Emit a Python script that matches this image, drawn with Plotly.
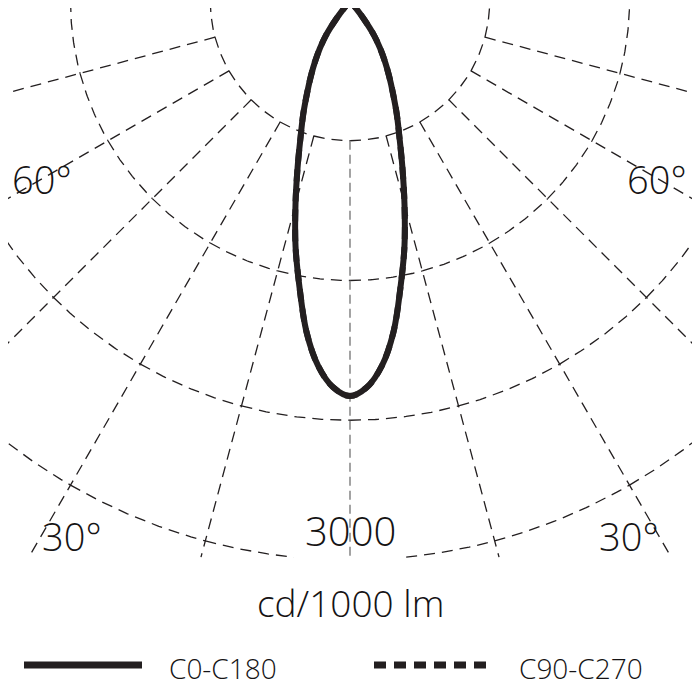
import numpy as np
import plotly.graph_objects as go

# Luminous intensity distribution (cd/1000 lm)
gamma = [0, 2.5, 5, 7.5, 10, 12.5, 15, 17.5, 20, 22.5, 25, 27.5, 30, 32.5, 35, 37.5, 40, 42.5, 45]
c0_c180 = [2120, 2075, 1965, 1790, 1560, 1350, 1130, 935, 775, 655, 545, 455, 375, 300, 225, 125, 35, 0, 0]
c90_c270 = [2120, 2075, 1965, 1790, 1560, 1350, 1130, 935, 775, 655, 545, 455, 375, 300, 225, 125, 35, 0, 0]

# Polar grid
ring_values = [750, 1500, 2250, 3000]
spoke_angles = [15, 30, 45, 60, 75, 90]
ring_label = "3000"
unit_label = "cd/1000 lm"
series_names = ["C0-C180", "C90-C270"]

INK = "#231f20"
TEXT = "#151314"
FONT = "Open Sans"
W = H = 700
PAGE = 8                          # the html body margin shifts the plot by this much
px_per_unit = 559 / 3000          # outer ring sits 559 px below the centre
cx, cy = 350 - PAGE, 1 - PAGE     # centre of the diagram in figure pixels
floor_y = -2985                   # grid is cut off just below the outer ring


def to_xy(angles, values):
    a = np.radians(angles)
    v = np.asarray(values, dtype=float)
    return v * np.sin(a), -v * np.cos(a)


def mirrored(angles, values):
    ang = [-a for a in angles[::-1]] + list(angles[1:])
    val = list(values[::-1]) + list(values[1:])
    return to_xy(ang, val)


fig = go.Figure()

# ring arcs, one piece per 15 degree sector
gx, gy = [], []
sectors = [-90, -75, -60, -45, -30, -15, 0, 15, 30, 45, 60, 75, 90]
for r in ring_values:
    for a0, a1 in zip(sectors[:-1], sectors[1:]):
        t = np.linspace(a0, a1, 40)
        x, y = to_xy(t, np.full_like(t, r))
        for xi, yi in zip(x, y):
            if yi >= floor_y:
                gx.append(xi)
                gy.append(yi)
            else:
                gx.append(None)
                gy.append(None)
        gx.append(None)
        gy.append(None)

# spokes, starting on the first ring
for a in spoke_angles:
    for s in (-1, 1):
        c = np.cos(np.radians(a))
        r_end = -floor_y / c if c > 1e-6 else 6000
        r_end = min(r_end, 6000)
        x, y = to_xy([s * a, s * a], [ring_values[0], r_end])
        gx += list(x) + [None]
        gy += list(y) + [None]

fig.add_trace(go.Scatter(x=gx, y=gy, mode="lines", hoverinfo="skip", showlegend=False,
                         line=dict(color=INK, width=1.3, dash="11px,7px")))

# nadir spoke in grey
x0, y0 = to_xy([0, 0], [ring_values[0], -floor_y])
fig.add_trace(go.Scatter(x=x0, y=y0, mode="lines", hoverinfo="skip", showlegend=False,
                         line=dict(color="#8c8c8c", width=1.6, dash="9px,5px")))

# curves
x90, y90 = mirrored(gamma, c90_c270)
fig.add_trace(go.Scatter(x=x90, y=y90, mode="lines", name=series_names[1], showlegend=False,
                         line=dict(color=INK, width=6, dash="12px,8px", shape="spline", smoothing=1.0)))
x0c, y0c = mirrored(gamma, c0_c180)
fig.add_trace(go.Scatter(x=x0c, y=y0c, mode="lines", name=series_names[0], showlegend=False,
                         line=dict(color=INK, width=6, shape="spline", smoothing=1.0)))


def px(xp, yp):
    # target screen pixel -> paper coordinates
    return (xp - PAGE) / W, 1 - (yp - PAGE) / H


labels = [("60°", 42, 179, 38), ("60°", 657, 179, 38), ("30°", 72, 536, 38), ("30°", 629, 536, 38),
          (ring_label, 350, 530, 40), (unit_label, 350, 602, 37),
          (series_names[0], 167, 668, 28), (series_names[1], 517, 668, 28)]
for text, xp, yp, size in labels:
    ax, ay = px(xp, yp)
    fig.add_annotation(x=ax, y=ay, xref="paper", yref="paper", text=text, showarrow=False,
                       xanchor="left" if text in series_names else "center", yanchor="middle",
                       font=dict(family=FONT, size=size, color=TEXT, weight=300))

# legend samples
for (x_a, x_b), dash in [((24, 142), "solid"), ((374, 488), "12px,8px")]:
    xa, ya = px(x_a, 665)
    xb, _ = px(x_b, 665)
    fig.add_shape(type="line", xref="paper", yref="paper", x0=xa, x1=xb, y0=ya, y1=ya,
                  line=dict(color=INK, width=7, dash=dash))

fig.update_layout(
    width=W, height=H,
    margin=dict(l=0, r=0, t=0, b=0),
    paper_bgcolor="white", plot_bgcolor="white",
    xaxis=dict(range=[-cx / px_per_unit, (W - cx) / px_per_unit], visible=False, fixedrange=True),
    yaxis=dict(range=[(cy - H) / px_per_unit, cy / px_per_unit], visible=False, fixedrange=True),
    showlegend=False,
)

fig.write_html("out.html")
